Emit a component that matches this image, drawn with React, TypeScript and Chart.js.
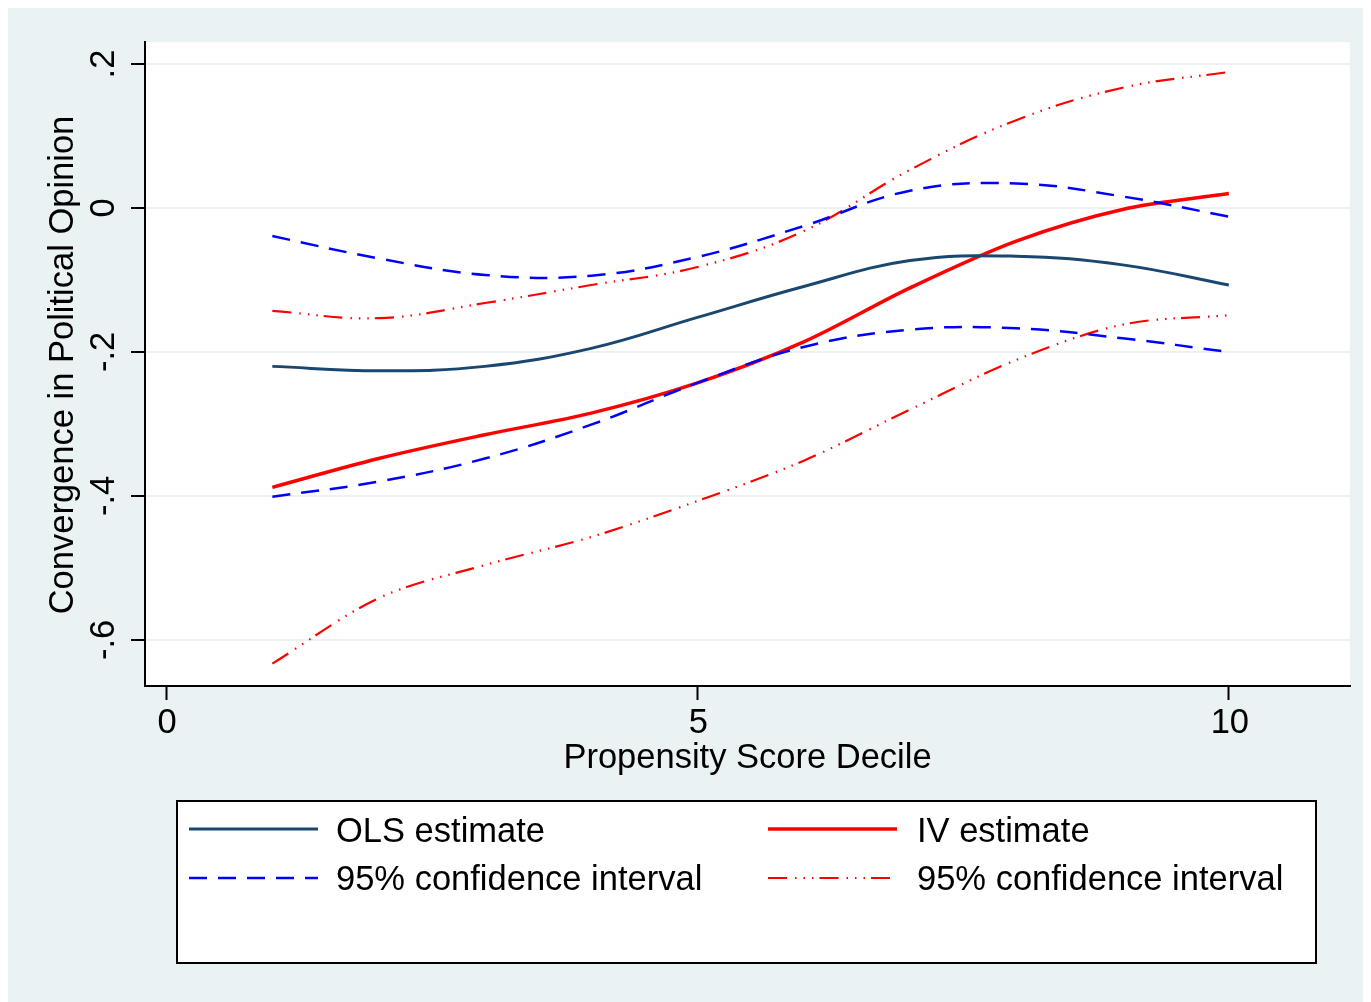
import React, { useEffect, useRef } from "react";
import { Chart, registerables } from "chart.js";

Chart.register(...registerables);

// ---- data ----
const deciles = [1, 2, 3, 4, 5, 6, 7, 8, 9, 10];
const olsEstimate = [-0.220, -0.226, -0.220, -0.195, -0.152, -0.109, -0.073, -0.067, -0.079, -0.107];
const olsLower = [-0.401, -0.380, -0.348, -0.301, -0.243, -0.193, -0.169, -0.167, -0.181, -0.200];
const olsUpper = [-0.039, -0.070, -0.093, -0.094, -0.068, -0.025, 0.024, 0.034, 0.016, -0.012];
const ivEstimate = [-0.388, -0.348, -0.315, -0.285, -0.243, -0.186, -0.111, -0.046, -0.002, 0.020];
const ivLower = [-0.633, -0.542, -0.496, -0.457, -0.407, -0.351, -0.280, -0.211, -0.162, -0.149];
const ivUpper = [-0.143, -0.153, -0.132, -0.107, -0.082, -0.032, 0.053, 0.122, 0.167, 0.189];

const yTicks = [-0.6, -0.4, -0.2, 0, 0.2];
const yTickLabels = ["-.6", "-.4", "-.2", "0", ".2"];
const xTicks = [0, 5, 10];
const xTickLabels = ["0", "5", "10"];

const xTitle = "Propensity Score Decile";
const yTitle = "Convergence in Political Opinion";
const ciLabel = "95% confidence interval";

// ---- styles ----
const BG = "#EAF2F3";
const GRID = "#EAF2F3";
const NAVY = "#1a476f";
const BLUE = "#0000ff";
const RED = "#ff0000";
const FONT = '34.5px "Liberation Sans", Arial, Helvetica, sans-serif';
const DASH_BLUE = [18, 11];
const DASH_RED = [19, 8, 1.5, 7, 1.5, 7, 1.5, 6];

const toPts = (arr: number[]) => deciles.map((d, i) => ({ x: d, y: arr[i] }));

const stataPlugin = {
  id: "stataDecor",
  beforeDraw(chart: any) {
    const { ctx, chartArea: a } = chart;
    ctx.save();
    ctx.fillStyle = "#ffffff";
    ctx.fillRect(a.left, a.top, a.right - a.left, a.bottom - a.top);
    ctx.restore();
  },
  afterDraw(chart: any) {
    const { ctx, chartArea: a } = chart;
    const xs = chart.scales.x;
    const ys = chart.scales.y;
    ctx.save();
    ctx.fillStyle = "#000";
    ctx.font = FONT;

    // x tick labels
    ctx.textAlign = "center";
    ctx.textBaseline = "alphabetic";
    xTicks.forEach((v, i) => {
      ctx.fillText(xTickLabels[i], xs.getPixelForValue(v) + 1, a.bottom + 47);
    });
    // x title
    ctx.fillText(xTitle, (a.left + a.right) / 2, a.bottom + 82);

    // y tick labels (rotated)
    yTicks.forEach((v, i) => {
      ctx.save();
      ctx.translate(a.left - 31, ys.getPixelForValue(v));
      ctx.rotate(-Math.PI / 2);
      ctx.textAlign = "center";
      ctx.textBaseline = "alphabetic";
      ctx.fillText(yTickLabels[i], 0, 0);
      ctx.restore();
    });
    // y title
    ctx.save();
    ctx.translate(a.left - 72, (a.top + a.bottom) / 2 + 1);
    ctx.rotate(-Math.PI / 2);
    ctx.textAlign = "center";
    ctx.fillText(yTitle, 0, 0);
    ctx.restore();

    // legend box
    const bx = 169, by = 793, bw = 1139, bh = 162;
    ctx.fillStyle = "#ffffff";
    ctx.fillRect(bx, by, bw, bh);
    ctx.strokeStyle = "#000";
    ctx.lineWidth = 2;
    ctx.setLineDash([]);
    ctx.strokeRect(bx, by, bw, bh);

    const entries = [
      { ds: 0, col: 0, row: 0 },
      { ds: 3, col: 1, row: 0 },
      { ds: 1, col: 0, row: 1 },
      { ds: 4, col: 1, row: 1 },
    ];
    const colLine = [181, 760];
    const colText = [328, 909];
    const rowLine = [821, 870];
    const rowText = [834, 882];
    entries.forEach((e) => {
      const d = chart.data.datasets[e.ds];
      ctx.beginPath();
      ctx.strokeStyle = d.borderColor;
      ctx.lineWidth = d.borderWidth;
      ctx.setLineDash(d.borderDash || []);
      ctx.moveTo(colLine[e.col], rowLine[e.row]);
      ctx.lineTo(colLine[e.col] + 129, rowLine[e.row]);
      ctx.stroke();
      ctx.setLineDash([]);
      ctx.fillStyle = "#000";
      ctx.textAlign = "left";
      ctx.textBaseline = "alphabetic";
      ctx.fillText(d.label, colText[e.col], rowText[e.row]);
    });
    ctx.restore();
  },
};

export default function App() {
  const ref = useRef<HTMLCanvasElement | null>(null);

  useEffect(() => {
    document.documentElement.style.overflow = "hidden";
    document.body.style.overflow = "hidden";
    const canvas = ref.current;
    if (!canvas) return;
    const line = (label: string, data: number[], color: string, width: number, dash: number[], monotone = false) => ({
      label,
      data: toPts(data),
      borderColor: color,
      backgroundColor: color,
      borderWidth: width,
      borderDash: dash,
      pointRadius: 0,
      fill: false,
      tension: 0.4,
      cubicInterpolationMode: monotone ? "monotone" : "default",
    });
    const chart = new Chart(canvas, {
      type: "line",
      data: {
        datasets: [
          line("OLS estimate", olsEstimate, NAVY, 3, []),
          line(ciLabel, olsUpper, BLUE, 2.5, DASH_BLUE),
          line(ciLabel, olsLower, BLUE, 2.5, DASH_BLUE),
          line("IV estimate", ivEstimate, RED, 3.5, [], true),
          line(ciLabel, ivUpper, RED, 2.2, DASH_RED),
          line(ciLabel, ivLower, RED, 2.2, DASH_RED, true),
        ],
      },
      options: {
        animation: false,
        responsive: false,
        devicePixelRatio: 1,
        layout: { padding: { left: 0, top: 34, right: 21, bottom: 0 } },
        plugins: { legend: { display: false }, tooltip: { enabled: false }, title: { display: false } },
        scales: {
          x: {
            type: "linear",
            min: -0.198,
            max: 11.14,
            afterBuildTicks: (s: any) => {
              s.ticks = xTicks.map((v) => ({ value: v }));
            },
            afterFit: (s: any) => {
              s.height = 316;
            },
            ticks: { display: false },
            grid: {
              display: true,
              drawOnChartArea: false,
              drawTicks: true,
              tickLength: 14,
              tickColor: "#000",
              tickWidth: 2,
            },
            border: { display: true, color: "#000", width: 2 },
          },
          y: {
            type: "linear",
            min: -0.664,
            max: 0.2306,
            afterBuildTicks: (s: any) => {
              s.ticks = yTicks.map((v) => ({ value: v }));
            },
            afterFit: (s: any) => {
              s.width = 137;
            },
            ticks: { display: false },
            grid: {
              display: true,
              color: GRID,
              lineWidth: 2,
              drawTicks: true,
              tickLength: 14,
              tickColor: "#000",
              tickWidth: 2,
            },
            border: { display: true, color: "#000", width: 2 },
          },
        },
      },
      plugins: [stataPlugin],
    } as any);
    return () => chart.destroy();
  }, []);

  return (
    <div style={{ width: 1363, height: 994, background: BG }}>
      <canvas ref={ref} width={1363} height={994} style={{ display: "block", width: 1363, height: 994 }} />
    </div>
  );
}
